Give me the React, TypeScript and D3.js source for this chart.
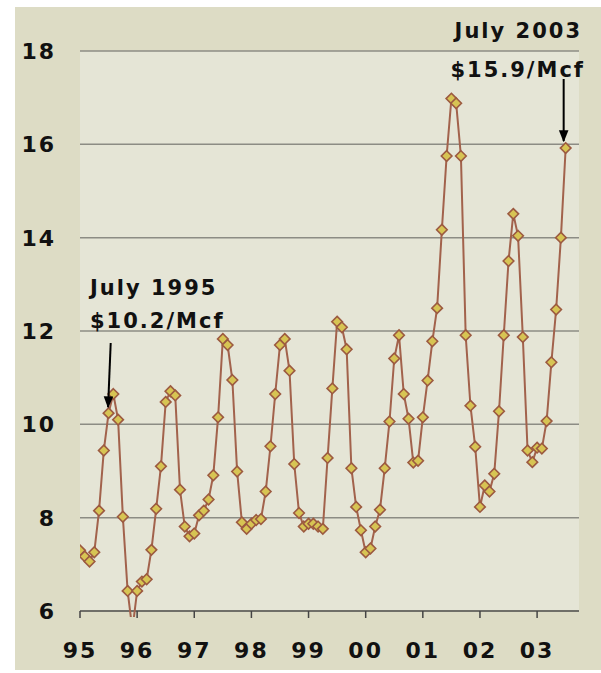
import React from "react";
import * as d3 from "d3";

const years = ["95", "96", "97", "98", "99", "00", "01", "02", "03"];
const yTicks = [6, 8, 10, 12, 14, 16, 18];

const p1995 = [7.30, 7.17, 7.06, 7.26, 8.15, 9.44, 10.24, 10.65, 10.10, 8.02, 6.43, 5.6];
const p1996 = [6.43, 6.63, 6.68, 7.31, 8.19, 9.10, 10.48, 10.71, 10.62, 8.60, 7.81, 7.60];
const p1997 = [7.66, 8.05, 8.15, 8.39, 8.91, 10.15, 11.83, 11.70, 10.95, 8.99, 7.90, 7.76];
const p1998 = [7.87, 7.95, 7.97, 8.56, 9.53, 10.65, 11.70, 11.83, 11.15, 9.15, 8.10, 7.81];
const p1999 = [7.87, 7.87, 7.81, 7.76, 9.28, 10.77, 12.20, 12.08, 11.61, 9.06, 8.23, 7.73];
const p2000 = [7.26, 7.34, 7.81, 8.17, 9.06, 10.06, 11.41, 11.91, 10.65, 10.12, 9.18, 9.22];
const p2001 = [10.15, 10.94, 11.78, 12.49, 14.17, 15.75, 16.98, 16.88, 15.75, 11.91, 10.40, 9.52];
const p2002 = [8.23, 8.69, 8.56, 8.94, 10.28, 11.91, 13.50, 14.51, 14.04, 11.87, 9.44, 9.19];
const p2003 = [9.50, 9.48, 10.07, 11.33, 12.46, 14.00, 15.92];

const prices = [...p1995, ...p1996, ...p1997, ...p1998, ...p1999, ...p2000, ...p2001, ...p2002, ...p2003];
const data = prices.map((v, i) => ({ m: i, v }));

const annotations = [
  { line1: "July 1995", line2: "$10.2/Mcf", month: 6 },
  { line1: "July 2003", line2: "$15.9/Mcf", month: 102 },
];

const W = 601, H = 673;
const plot = { left: 80, right: 579, top: 51, bottom: 611 };
const FONT = "'DejaVu Sans', sans-serif";

export default function App() {
  const x = d3.scaleLinear().domain([0, 104.8]).range([plot.left, plot.right]);
  const y = d3.scaleLinear().domain([6, 18]).range([plot.bottom, plot.top]);
  const line = d3.line<{ m: number; v: number }>().x(d => x(d.m)).y(d => y(d.v));
  const diamond = (cx: number, cy: number, r = 5.3) =>
    `M${cx},${cy - r}L${cx + r},${cy}L${cx},${cy + r}L${cx - r},${cy}Z`;

  const a1 = annotations[0];
  const a2 = annotations[1];
  const a1x = x(a1.month), a1y = y(prices[a1.month]);
  const a2x = x(a2.month), a2y = y(prices[a2.month]);

  return (
    <svg width={W} height={H} style={{ position: "absolute", left: 0, top: 0, background: "#fff" }}>
      <defs>
        <clipPath id="clip">
          <rect x={plot.left} y={plot.top - 10} width={plot.right - plot.left} height={plot.bottom - plot.top + 16} />
        </clipPath>
        <marker id="arrow" viewBox="0 0 10 10" refX="9" refY="5" markerWidth="6" markerHeight="6" orient="auto">
          <path d="M0,1L10,5L0,9Z" fill="#000" />
        </marker>
      </defs>
      <rect x={15} y={7} width={W - 15} height={663} fill="#dddcc5" />
      <rect x={plot.left} y={plot.top} width={plot.right - plot.left} height={plot.bottom - plot.top} fill="#e5e5d6" />
      {yTicks.filter(t => t > 6).map(t => (
        <line key={t} x1={plot.left} x2={plot.right} y1={y(t)} y2={y(t)} stroke="#8c8c84" strokeWidth={1.5} />
      ))}
      <line x1={plot.left} x2={plot.right} y1={plot.bottom} y2={plot.bottom} stroke="#6f6f68" strokeWidth={2} />
      {years.map((yr, i) => (
        <g key={yr}>
          <line x1={x(i * 12)} x2={x(i * 12)} y1={plot.bottom} y2={plot.bottom + 7} stroke="#444" strokeWidth={1.5} />
          <text x={x(i * 12)} y={658} textAnchor="middle" fontFamily={FONT} fontWeight="bold" fontSize={22} letterSpacing={2} fill="#111">{yr}</text>
        </g>
      ))}
      {yTicks.map(t => (
        <text key={t} x={56} y={y(t) + 8} textAnchor="end" fontFamily={FONT} fontWeight="bold" fontSize={22} letterSpacing={2} fill="#111">{t}</text>
      ))}
      <g clipPath="url(#clip)">
        <path d={line(data) || ""} fill="none" stroke="#a2624c" strokeWidth={2} />
        {data.filter(d => d.v >= 6).map(d => (
          <path key={d.m} d={diamond(x(d.m), y(d.v))} fill="#d7c453" stroke="#9c5a40" strokeWidth={1.6} />
        ))}
      </g>
      <g fontFamily={FONT} fontWeight="bold" fontSize={21} letterSpacing={2} fill="#111">
        <text x={90} y={295}>{a1.line1}</text>
        <text x={90} y={328}>{a1.line2}</text>
        <text x={582} y={38} textAnchor="end">{a2.line1}</text>
        <text x={585} y={77} textAnchor="end">{a2.line2}</text>
      </g>
      <line x1={110.7} y1={343} x2={a1x - 0.5} y2={a1y - 6} stroke="#000" strokeWidth={2} markerEnd="url(#arrow)" />
      <line x1={a2x - 2} y1={79} x2={a2x - 2} y2={a2y - 7} stroke="#000" strokeWidth={2} markerEnd="url(#arrow)" />
    </svg>
  );
}
